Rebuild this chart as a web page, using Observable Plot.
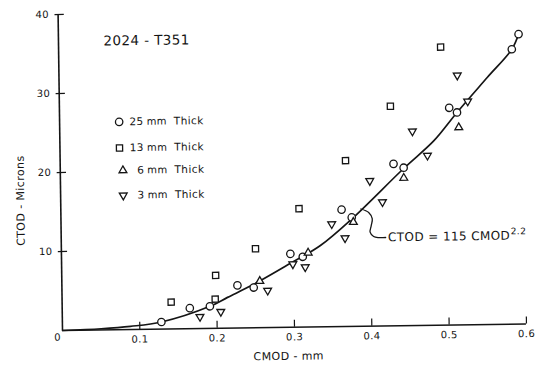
<!DOCTYPE html>
<html><head><meta charset="utf-8">
<script src="https://cdn.jsdelivr.net/npm/d3@7"></script>
<script src="https://cdn.jsdelivr.net/npm/@observablehq/plot@0.6"></script>
<style>
html,body{margin:0;padding:0;background:#fff;}
#chart svg{display:block;}
</style></head><body><div id="chart"></div>
<script>
// ---- data ----
const thick25X = [0.128,0.165,0.191,0.227,0.248,0.296,0.312,0.363,0.376,0.431,0.444,0.504,0.514,0.586,0.595];
const thick25Y = [0.9,2.6,2.8,5.4,5.1,9.3,8.9,14.8,13.8,20.5,20.0,27.5,26.9,34.8,36.7];
const thick13X = [0.141,0.198,0.199,0.251,0.308,0.369,0.428,0.494];
const thick13Y = [3.4,3.7,6.7,10.0,15.0,21.0,27.8,35.2];
const thick6X = [0.256,0.319,0.378,0.444,0.516];
const thick6Y = [5.9,9.4,13.2,18.7,25.0];
const thick3X = [0.178,0.205,0.266,0.299,0.315,0.350,0.367,0.400,0.416,0.456,0.475,0.515,0.528];
const thick3Y = [1.5,2.1,4.7,8.0,7.6,13.0,11.2,18.4,15.7,24.6,21.5,31.6,28.3];
// fitted curve CTOD = 115 CMOD^2.2
const fitX = [0,0.05,0.088,0.128,0.191,0.214,0.248,0.296,0.335,0.376,0.444,0.484,0.514,0.554,0.586,0.595];
const fitY = [0,0.15,0.4,0.9,2.8,3.9,5.5,8.1,10.3,13.6,19.9,23.4,26.9,31.3,34.8,36.7];
// leader from curve to equation label
const leaderX = [0.388,0.398,0.4025,0.401,0.3995,0.404,0.4105,0.4195];
const leaderY = [14.85,14.4,13.6,12.7,11.9,11.35,11.2,11.2];

const xTicks = [0.1,0.2,0.3,0.4,0.5,0.6];
const yTicks = [10,20,30,40];
const legendNumbers = ["25","13","6","3"];
const titleText = "2024 - T351";
const equationText = "CTOD = 115 CMOD";
const equationExp = "2.2";
const xTitle = "CMOD - mm";
const yTitle = "CTOD - Microns";

const INK = "#151515";
const pts = (xs, ys) => d3.range(xs.length).map(i => ({x: xs[i], y: ys[i]}));
const markerStyle = {x: "x", y: "y", stroke: INK, fill: "#fff", strokeWidth: 1.3};

const legendRowY = [26.3, 23.0, 20.15, 17.0];
const legendSym = [
  {symbol: "circle", rotate: 0, r: 3.7, x: 0.077},
  {symbol: "square", rotate: 0, r: 3.5, x: 0.077},
  {symbol: "triangle", rotate: 0, r: 2.9, x: 0.081},
  {symbol: "triangle", rotate: 180, r: 2.9, x: 0.081}
];

const chart = Plot.plot({
  width: 535,
  height: 365,
  marginLeft: 62,
  marginRight: 9,
  marginTop: 14,
  marginBottom: 35,
  x: {domain: [0, 0.6]},
  y: {domain: [0, 40]},
  style: {fontFamily: "DejaVu Sans, sans-serif", fontSize: "10px", color: INK, background: "#fff", overflow: "visible"},
  marks: [
    // axes lines
    Plot.ruleY([0], {stroke: INK, strokeWidth: 1.6}),
    Plot.ruleX([0], {stroke: INK, strokeWidth: 1.6}),
    Plot.ruleX(xTicks, {x: d => d, y1: 0, y2: 0.9, stroke: INK, strokeWidth: 1.2}),
    Plot.ruleY(yTicks, {y: d => d, x1: -0.004, x2: 0.008, stroke: INK, strokeWidth: 1.2}),
    Plot.axisX(xTicks, {tickSize: 0, tickPadding: 6, tickFormat: d => d.toFixed(1), fontSize: 10, label: null}),
    Plot.axisY(yTicks, {tickSize: 0, tickPadding: 9, fontSize: 10, label: null}),
    Plot.text(["0"], {x: 0, y: 0, dx: -5, dy: 7, text: d => d, fontSize: 10}),
    // axis titles
    Plot.text([xTitle], {x: 0.292, y: 0, dy: 29, text: d => d, fontSize: 11, textAnchor: "middle", lineAnchor: "middle"}),
    Plot.text([yTitle], {x: 0, y: 16.5, dx: -40, rotate: -90, text: d => d, fontSize: 11, textAnchor: "middle", lineAnchor: "middle"}),
    // fitted curve
    Plot.line(pts(fitX, fitY), {x: "x", y: "y", curve: "catmull-rom", stroke: INK, strokeWidth: 1.7}),
    // leader + equation
    Plot.line(pts(leaderX, leaderY), {x: "x", y: "y", curve: "catmull-rom", stroke: INK, strokeWidth: 1.3}),
    Plot.text([equationText], {x: 0.4225, y: 11.2, text: d => d, textAnchor: "start", fontSize: 12}),
    Plot.text([equationExp], {x: 0.5813, y: 11.75, text: d => d, textAnchor: "start", fontSize: 9}),
    // data markers
    Plot.dot(pts(thick25X, thick25Y), {...markerStyle, symbol: "circle", r: 3.7}),
    Plot.dot(pts(thick13X, thick13Y), {...markerStyle, symbol: "square", r: 3.5}),
    Plot.dot(pts(thick6X, thick6Y), {...markerStyle, symbol: "triangle", r: 2.9}),
    Plot.dot(pts(thick3X, thick3Y), {...markerStyle, symbol: "triangle", r: 2.9, rotate: 180}),
    // title
    Plot.text([titleText], {x: 0.0583, y: 36.55, text: d => d, textAnchor: "start", fontSize: 13.5, fontWeight: 500}),
    // legend
    ...legendSym.map((s, i) => Plot.dot([0], {x: () => s.x, y: () => legendRowY[i], symbol: s.symbol, rotate: s.rotate, r: s.r, stroke: INK, fill: "#fff", strokeWidth: 1.3})),
    Plot.text(legendNumbers, {x: () => 0.1085, y: (d, i) => legendRowY[i], text: d => d, textAnchor: "end", fontSize: 10.5}),
    Plot.text(legendNumbers, {x: () => 0.1125, y: (d, i) => legendRowY[i], text: () => "mm", textAnchor: "start", fontSize: 10}),
    Plot.text(legendNumbers, {x: () => 0.1477, y: (d, i) => legendRowY[i], text: () => "Thick", textAnchor: "start", fontSize: 10.5})
  ]
});

chart.style.transformOrigin = "62px 330px";
chart.style.transform = "rotate(-0.8deg)";
d3.select(chart).selectAll("text").attr("letter-spacing", "0.4px");
document.getElementById("chart").appendChild(chart);
</script>
</body></html>
